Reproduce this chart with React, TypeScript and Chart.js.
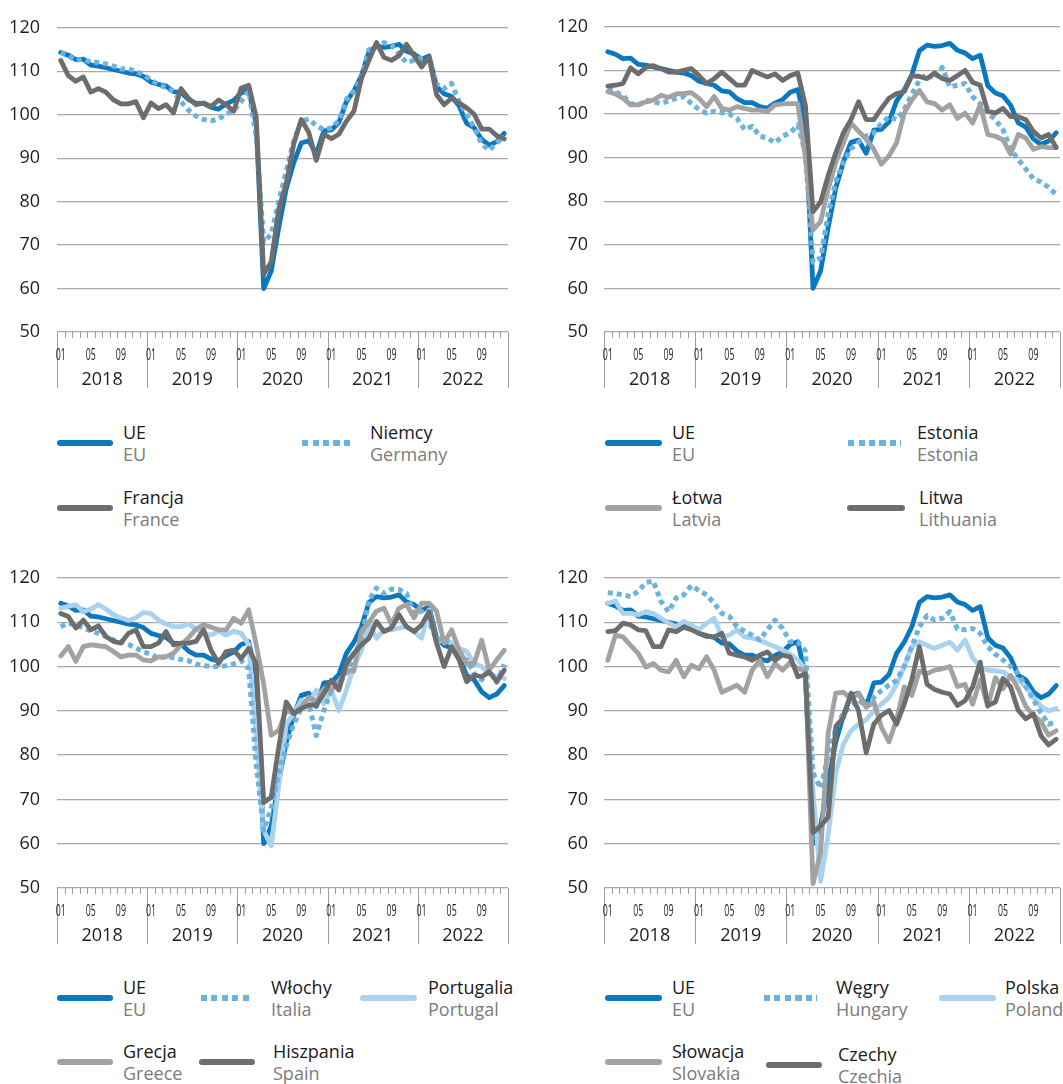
import React, { useEffect, useRef } from "react";
import { Chart, registerables } from "chart.js";

Chart.register(...registerables);

// ---------- categories & tick labels ----------
const years = ["2018", "2019", "2020", "2021", "2022"];
const monthCodes = ["01", "02", "03", "04", "05", "06", "07", "08", "09", "10", "11", "12"];
const monthTickLabels = ["01", "05", "09"];
const categories = years.flatMap((y) => monthCodes.map((m) => `${y}-${m}`));
const yMin = 50;
const yMax = 120;
const yStep = 10;

// ---------- series (monthly, 2018-01 .. 2022-12) ----------
const eu = [
  114.3, 113.7, 112.7, 112.8, 111.4, 111.2, 110.8, 110.4, 110.0, 109.6, 109.4, 108.8,
  107.5, 107.0, 106.6, 105.3, 105.1, 103.5, 102.6, 102.6, 101.7, 101.3, 102.5, 103.3,
  105.0, 105.6, 98.0, 60.0, 64.0, 74.0, 83.0, 89.0, 93.5, 94.0, 91.0, 96.3,
  96.5, 98.2, 103.0, 105.5, 109.0, 114.5, 115.8, 115.5, 115.7, 116.2, 114.6, 114.0,
  112.7, 113.5, 106.5, 104.8, 104.2, 102.0, 98.0, 97.0, 94.3, 93.0, 93.8, 95.7,
];
const germany = [
  114.3, 113.6, 112.5, 112.8, 112.1, 112.0, 111.7, 111.2, 110.5, 110.6, 110.0, 109.2,
  108.0, 107.0, 106.2, 105.3, 103.0, 101.0, 99.7, 98.9, 98.6, 99.0, 100.1, 101.0,
  103.0, 105.5, 95.0, 70.7, 72.5, 80.0, 87.0, 94.0, 98.5, 99.0, 97.5, 96.5,
  97.0, 98.6, 103.5, 105.5, 108.5, 115.0, 115.5, 116.6, 116.0, 114.0, 112.0, 112.5,
  113.0, 113.0, 107.0, 106.0, 107.2, 103.0, 100.0, 97.0, 93.3, 91.8, 93.5, 95.0,
];
const france = [
  112.5, 109.0, 107.7, 108.7, 105.2, 106.0, 105.2, 103.4, 102.5, 102.5, 103.0, 99.3,
  102.7, 101.4, 102.3, 100.4, 106.0, 103.8, 102.3, 102.7, 101.9, 103.4, 102.3, 100.8,
  106.1, 106.8, 99.5, 63.2, 66.2, 78.2, 84.2, 93.3, 98.9, 95.9, 89.5, 95.5,
  94.5, 95.5, 98.5, 100.8, 108.3, 112.5, 116.6, 113.2, 112.5, 113.6, 116.2, 113.6,
  111.0, 113.2, 104.6, 102.3, 103.8, 102.7, 101.6, 100.1, 96.7, 96.7, 95.2, 94.4,
];
const estonia = [
  105.8, 105.0, 104.3, 102.4, 102.0, 103.2, 102.8, 102.4, 103.0, 103.6, 104.0, 102.4,
  101.0, 100.2, 100.6, 100.3, 100.0, 99.0, 96.4, 97.2, 94.9, 94.5, 93.4, 94.9,
  95.7, 97.5, 91.0, 66.0, 67.0, 77.0, 84.5, 89.0, 92.0, 93.5, 95.0, 95.7,
  97.8, 99.4, 98.7, 101.0, 104.5, 107.7, 109.2, 108.0, 110.7, 106.2, 106.6, 107.0,
  104.0, 102.4, 100.2, 98.7, 96.4, 92.0, 89.6, 87.4, 85.1, 84.4, 83.2, 81.5,
];
const latvia = [
  105.1, 104.6, 103.6, 102.1, 102.1, 102.8, 103.2, 104.3, 103.8, 104.6, 104.7, 104.9,
  103.6, 101.7, 104.0, 101.3, 100.9, 101.7, 101.3, 100.9, 100.9, 100.6, 102.1, 102.3,
  102.4, 102.4, 90.0, 73.4, 75.3, 82.8, 88.9, 93.4, 97.9, 96.0, 94.2, 91.9,
  88.5, 90.4, 93.4, 100.2, 103.2, 105.4, 102.8, 102.4, 100.9, 102.1, 99.0, 100.2,
  97.9, 102.1, 95.3, 94.9, 94.1, 90.8, 95.3, 94.5, 91.9, 92.5, 92.3, 92.3,
];
const lithuania = [
  106.4, 106.6, 107.0, 110.6, 109.2, 110.7, 111.1, 110.4, 109.6, 109.6, 110.0, 110.4,
  108.8, 107.0, 108.1, 109.6, 108.1, 106.6, 106.6, 110.0, 109.2, 108.5, 109.2, 107.7,
  108.8, 109.4, 102.0, 77.6, 79.8, 85.9, 91.1, 95.7, 98.7, 102.8, 98.7, 98.7,
  101.3, 103.6, 104.7, 105.1, 108.8, 108.6, 108.1, 109.4, 108.1, 107.7, 108.8, 110.0,
  107.3, 106.6, 100.6, 100.2, 101.3, 99.4, 99.4, 98.7, 96.0, 94.5, 95.3, 92.3,
];
const italy = [
  109.0, 109.8, 109.3, 108.8, 108.0, 107.5, 106.8, 106.0, 105.6, 105.0, 104.2, 103.3,
  102.8, 101.8, 102.3, 102.0, 101.6, 101.3, 100.6, 100.2, 100.0, 100.0, 100.2, 100.6,
  101.3, 99.5, 78.0, 63.0, 68.0, 76.0, 82.0, 87.0, 90.5, 91.6, 84.4, 90.0,
  94.7, 96.2, 98.4, 102.2, 106.5, 115.0, 117.7, 116.5, 117.5, 117.4, 116.5, 112.0,
  112.5, 110.0, 106.0, 106.5, 104.0, 102.0, 101.5, 98.4, 97.0, 99.2, 96.5, 100.5,
];
const portugal = [
  113.2, 113.6, 114.0, 112.4, 113.0, 114.0, 113.0, 111.7, 111.0, 110.4, 111.0, 112.2,
  112.0, 110.5, 109.6, 109.0, 109.0, 109.6, 108.5, 107.5, 107.1, 108.0, 107.1, 108.0,
  107.5, 105.0, 84.0, 63.0, 59.5, 73.0, 87.0, 89.4, 92.4, 91.6, 94.7, 91.6,
  94.7, 90.1, 94.7, 100.0, 103.7, 109.8, 106.4, 108.3, 108.3, 108.7, 109.1, 107.9,
  106.4, 112.8, 105.3, 106.4, 105.3, 104.1, 103.4, 100.7, 100.0, 98.4, 97.7, 97.3,
];
const greece = [
  102.4, 104.5, 101.2, 104.5, 104.9, 104.7, 104.5, 103.4, 102.2, 102.6, 102.6, 101.5,
  101.3, 102.2, 102.2, 103.0, 104.9, 106.5, 108.5, 109.4, 108.9, 108.3, 108.3, 110.9,
  109.8, 112.8, 105.0, 96.0, 84.5, 85.6, 90.1, 89.4, 90.9, 93.1, 92.0, 95.0,
  94.7, 96.6, 99.2, 99.0, 108.0, 110.0, 112.5, 113.2, 109.5, 113.2, 114.0, 111.0,
  114.3, 114.3, 112.5, 105.3, 108.3, 103.7, 100.7, 100.7, 106.0, 99.2, 101.5, 103.7,
];
const spain = [
  112.0, 111.3, 108.7, 110.5, 108.3, 109.2, 106.8, 105.7, 105.3, 107.5, 108.3, 104.5,
  104.5, 105.3, 107.9, 104.9, 105.3, 105.3, 105.7, 108.3, 103.7, 100.7, 103.4, 103.7,
  101.8, 104.1, 100.7, 69.3, 70.5, 81.8, 92.0, 89.4, 90.5, 91.3, 91.3, 93.9,
  96.9, 94.7, 100.7, 103.0, 104.9, 106.4, 110.2, 107.9, 108.7, 111.7, 109.0, 107.9,
  109.4, 112.4, 105.3, 100.0, 104.5, 101.5, 96.6, 98.1, 97.7, 98.8, 96.6, 99.2,
];
const hungary = [
  116.7, 116.5, 116.2, 115.8, 117.0, 119.0, 119.3, 114.7, 112.4, 115.5, 116.2, 118.3,
  117.2, 116.2, 114.3, 112.0, 111.3, 109.0, 108.0, 107.1, 106.0, 108.3, 110.5, 108.6,
  105.6, 105.6, 103.5, 76.0, 72.5, 80.0, 86.0, 89.5, 91.0, 92.5, 91.0, 93.0,
  94.6, 95.8, 96.9, 100.0, 104.5, 109.0, 111.5, 110.5, 110.9, 112.4, 108.5, 108.3,
  108.6, 107.5, 104.5, 102.8, 101.5, 100.0, 98.4, 95.5, 92.5, 89.5, 87.0, 87.5,
];
const poland = [
  114.3, 114.8, 112.0, 112.0, 111.7, 112.4, 112.0, 110.9, 109.8, 109.0, 110.2, 109.4,
  108.3, 109.8, 110.9, 106.7, 107.1, 108.3, 106.7, 106.4, 106.0, 105.2, 104.5, 103.7,
  102.8, 101.5, 99.5, 72.0, 51.5, 62.0, 76.0, 82.5, 85.5, 87.0, 88.0, 90.0,
  91.5, 93.0, 96.0, 100.0, 104.5, 105.6, 104.8, 104.1, 104.8, 105.5, 103.7, 106.0,
  102.0, 100.0, 99.2, 99.0, 98.8, 97.7, 97.0, 95.4, 93.0, 91.0, 90.0, 90.5,
];
const slovakia = [
  101.4, 107.1, 106.7, 104.8, 103.0, 99.9, 100.7, 99.2, 98.8, 101.4, 97.7, 100.3,
  99.5, 102.2, 99.2, 94.2, 95.0, 95.8, 94.2, 99.2, 101.4, 97.7, 100.7, 99.2,
  101.0, 99.5, 99.2, 51.0, 58.0, 85.0, 94.0, 94.2, 92.7, 93.9, 90.8, 92.0,
  86.3, 83.0, 88.0, 95.4, 93.5, 99.0, 98.4, 99.2, 99.5, 100.0, 95.5, 96.0,
  91.5, 97.0, 91.0, 97.5, 95.0, 98.0, 95.0, 91.0, 89.0, 87.5, 84.5, 85.5,
];
const czechia = [
  107.9, 108.1, 109.8, 109.4, 108.3, 108.1, 104.5, 104.5, 108.3, 107.9, 108.9, 108.3,
  107.5, 106.8, 106.7, 107.5, 103.0, 102.6, 102.2, 101.4, 102.6, 103.3, 101.4, 102.6,
  102.2, 97.7, 98.4, 62.5, 64.0, 66.0, 86.5, 88.5, 94.0, 90.0, 80.5, 87.0,
  89.0, 90.1, 87.0, 91.5, 97.0, 104.5, 96.0, 94.8, 94.2, 93.8, 91.2, 92.3,
  95.4, 101.0, 91.2, 92.0, 97.3, 95.4, 90.1, 88.2, 89.3, 84.4, 82.3, 83.6,
];

// ---------- styles ----------
type StyleKey = "eu" | "dotted" | "light" | "mid" | "dark";
const COLORS: Record<StyleKey, string> = {
  eu: "#0a78bf",
  dotted: "#6cb2df",
  light: "#a9d2ee",
  mid: "#a2a2a2",
  dark: "#6d6d6d",
};
const ORDER: Record<StyleKey, number> = { eu: 4, light: 3, dotted: 2, mid: 1, dark: 0 };
const FONT = "'Open Sans', 'Noto Sans', sans-serif";
const GRID = "#a9a9a9";

interface SeriesDef {
  name: string;
  nameEn: string;
  data: number[];
  style: StyleKey;
}
interface LegendPos {
  x1: number;
  x2: number;
  tx: number;
  y: number;
}
interface PanelDef {
  series: SeriesDef[];
  legend: LegendPos[];
  left: number;
  top: number;
  width: number;
  height: number;
  yAxisWidth: number;
  tickPad: number;
  padding: { top: number; right: number; bottom: number; left: number };
}

const panels: PanelDef[] = [
  {
    series: [
      { name: "UE", nameEn: "EU", data: eu, style: "eu" },
      { name: "Niemcy", nameEn: "Germany", data: germany, style: "dotted" },
      { name: "Francja", nameEn: "France", data: france, style: "dark" },
    ],
    legend: [
      { x1: 57, x2: 113, tx: 123, y: 443 },
      { x1: 302, x2: 352, tx: 370, y: 443 },
      { x1: 57, x2: 113, tx: 123, y: 508 },
    ],
    left: 0, top: 0, width: 530, height: 400, yAxisWidth: 57, tickPad: 17,
    padding: { top: 22, right: 22, bottom: 68, left: 0 },
  },
  {
    series: [
      { name: "UE", nameEn: "EU", data: eu, style: "eu" },
      { name: "Estonia", nameEn: "Estonia", data: estonia, style: "dotted" },
      { name: "Łotwa", nameEn: "Latvia", data: latvia, style: "mid" },
      { name: "Litwa", nameEn: "Lithuania", data: lithuania, style: "dark" },
    ],
    legend: [
      { x1: 605, x2: 662, tx: 672, y: 443 },
      { x1: 848, x2: 901, tx: 917, y: 443 },
      { x1: 605, x2: 662, tx: 672, y: 508 },
      { x1: 847, x2: 905, tx: 919, y: 508 },
    ],
    left: 530, top: 0, width: 533, height: 400, yAxisWidth: 74, tickPad: 16,
    padding: { top: 22, right: 3, bottom: 68, left: 0 },
  },
  {
    series: [
      { name: "UE", nameEn: "EU", data: eu, style: "eu" },
      { name: "Włochy", nameEn: "Italia", data: italy, style: "dotted" },
      { name: "Portugalia", nameEn: "Portugal", data: portugal, style: "light" },
      { name: "Grecja", nameEn: "Greece", data: greece, style: "mid" },
      { name: "Hiszpania", nameEn: "Spain", data: spain, style: "dark" },
    ],
    legend: [
      { x1: 57, x2: 113, tx: 123, y: 998 },
      { x1: 201, x2: 252, tx: 271, y: 998 },
      { x1: 360, x2: 417, tx: 428, y: 998 },
      { x1: 57, x2: 113, tx: 123, y: 1062 },
      { x1: 199, x2: 255, tx: 273, y: 1062 },
    ],
    left: 0, top: 550, width: 530, height: 400, yAxisWidth: 57, tickPad: 17,
    padding: { top: 28, right: 22, bottom: 62, left: 0 },
  },
  {
    series: [
      { name: "UE", nameEn: "EU", data: eu, style: "eu" },
      { name: "Węgry", nameEn: "Hungary", data: hungary, style: "dotted" },
      { name: "Polska", nameEn: "Poland", data: poland, style: "light" },
      { name: "Słowacja", nameEn: "Slovakia", data: slovakia, style: "mid" },
      { name: "Czechy", nameEn: "Czechia", data: czechia, style: "dark" },
    ],
    legend: [
      { x1: 605, x2: 662, tx: 672, y: 998 },
      { x1: 764, x2: 817, tx: 836, y: 998 },
      { x1: 939, x2: 996, tx: 1005, y: 998 },
      { x1: 605, x2: 662, tx: 672, y: 1062 },
      { x1: 766, x2: 822, tx: 838, y: 1065 },
    ],
    left: 530, top: 550, width: 533, height: 400, yAxisWidth: 74, tickPad: 16,
    padding: { top: 28, right: 3, bottom: 62, left: 0 },
  },
];

// ---------- custom time axis (month ticks, 01/05/09, years) ----------
const timeAxisPlugin = {
  id: "timeAxis",
  afterDraw(chart: any) {
    const { ctx, chartArea } = chart;
    const xs = chart.scales.x;
    const n = categories.length;
    const step = xs.getPixelForValue(1) - xs.getPixelForValue(0);
    const bottom = chartArea.bottom;
    ctx.save();
    ctx.strokeStyle = "#9c9c9c";
    ctx.lineWidth = 1;
    for (let i = 0; i <= n; i++) {
      const x = i < n ? xs.getPixelForValue(i) - step / 2 : xs.getPixelForValue(n - 1) + step / 2;
      const len = i % 12 === 0 ? 56 : 6;
      const px = Math.round(x) + 0.5;
      ctx.beginPath();
      ctx.moveTo(px, bottom);
      ctx.lineTo(px, bottom + len);
      ctx.stroke();
    }
    ctx.fillStyle = "#1e1e1e";
    ctx.textAlign = "center";
    ctx.textBaseline = "middle";
    years.forEach((yr, yi) => {
      monthTickLabels.forEach((lab) => {
        const mi = monthCodes.indexOf(lab);
        const x = xs.getPixelForValue(yi * 12 + mi);
        ctx.save();
        ctx.translate(x, bottom + 23);
        ctx.scale(0.55, 1);
        ctx.font = `16px ${FONT}`;
        ctx.fillText(lab, 0, 0);
        ctx.restore();
      });
      const xa = xs.getPixelForValue(yi * 12) - step / 2;
      const xb = xs.getPixelForValue(yi * 12 + 11) + step / 2;
      ctx.font = `18px ${FONT}`;
      ctx.fillText(yr, (xa + xb) / 2, bottom + 48);
    });
    ctx.restore();
  },
};

function Panel({ panel }: { panel: PanelDef }) {
  const ref = useRef<HTMLCanvasElement>(null);
  useEffect(() => {
    const canvas = ref.current;
    if (!canvas) return;
    const chart = new Chart(canvas, {
      type: "line",
      data: {
        labels: categories,
        datasets: panel.series.map((s) => ({
          label: s.name,
          data: s.data,
          borderColor: COLORS[s.style],
          backgroundColor: COLORS[s.style],
          borderWidth: s.style === "dotted" ? 5 : 4.8,
          borderDash: s.style === "dotted" ? [5, 4] : [],
          borderCapStyle: s.style === "dotted" ? "butt" : "round",
          borderJoinStyle: "round",
          pointRadius: 0,
          pointHoverRadius: 0,
          tension: 0,
          fill: false,
          order: ORDER[s.style],
        })) as any,
      },
      options: {
        animation: false,
        responsive: false,
        maintainAspectRatio: false,
        events: [],
        layout: { padding: panel.padding },
        plugins: { legend: { display: false }, tooltip: { enabled: false } },
        scales: {
          x: { type: "category", offset: true, display: false },
          y: {
            min: yMin,
            max: yMax,
            ticks: {
              stepSize: yStep,
              padding: panel.tickPad,
              color: "#1e1e1e",
              font: { family: FONT, size: 18 },
            },
            grid: { color: GRID, lineWidth: 1.3, drawTicks: false },
            border: { display: false },
            afterFit: (scale: any) => {
              scale.width = panel.yAxisWidth;
            },
          } as any,
        },
      },
      plugins: [timeAxisPlugin],
    });
    return () => chart.destroy();
  }, [panel]);

  return (
    <>
      <canvas
        ref={ref}
        width={panel.width}
        height={panel.height}
        style={{ position: "absolute", left: panel.left, top: panel.top, width: panel.width, height: panel.height }}
      />
      {panel.series.map((s, i) => {
        const l = panel.legend[i];
        const color = COLORS[s.style];
        const dotted = s.style === "dotted";
        return (
          <React.Fragment key={s.name + i}>
            <div
              style={{
                position: "absolute",
                left: l.x1,
                top: l.y - 3,
                width: l.x2 - l.x1,
                height: 6,
                borderRadius: dotted ? 0 : 3,
                background: dotted
                  ? `repeating-linear-gradient(to right, ${color} 0px, ${color} 6px, transparent 6px, transparent 10.5px)`
                  : color,
              }}
            />
            <div
              style={{
                position: "absolute",
                left: l.tx,
                top: l.y - 22,
                fontFamily: FONT,
                fontSize: 18,
                lineHeight: "22px",
                whiteSpace: "nowrap",
              }}
            >
              <div style={{ color: "#1a1a1a" }}>{s.name}</div>
              <div style={{ color: "#7b7b7b" }}>{s.nameEn}</div>
            </div>
          </React.Fragment>
        );
      })}
    </>
  );
}

export default function App() {
  return (
    <div
      style={{
        position: "absolute",
        left: 0,
        top: 0,
        width: 1063,
        height: 1084,
        overflow: "hidden",
        background: "#ffffff",
      }}
    >
      {panels.map((p, i) => (
        <Panel key={i} panel={p} />
      ))}
    </div>
  );
}
